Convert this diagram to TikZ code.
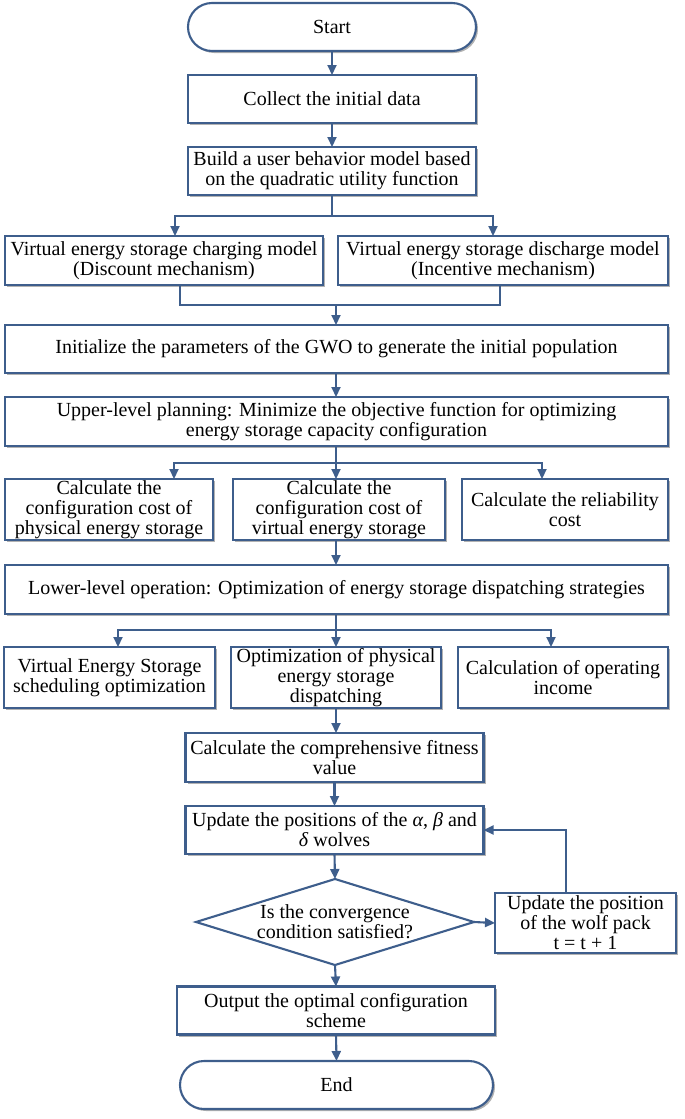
\documentclass[tikz,border=0pt]{standalone}
\usepackage{fontspec}
\setmainfont{Liberation Serif}
\usetikzlibrary{shapes.geometric,arrows.meta,shadows}
\definecolor{edgeblue}{RGB}{62,94,140}
\begin{document}
\begin{tikzpicture}[x=1pt,y=-1pt,
  font=\fontsize{20}{20}\selectfont,
  box/.style={draw=edgeblue, line width=2.1pt, fill=white, rectangle, align=center, inner sep=0pt, outer sep=0pt,
    drop shadow={shadow xshift=2pt,shadow yshift=-2pt,fill=black,opacity=0.3}},
  term/.style={box, rounded corners=24pt},
  decision/.style={draw=edgeblue, line width=2.1pt, fill=white, diamond, inner sep=0pt, outer sep=0pt},
  conn/.style={draw=edgeblue, line width=2.1pt},
  arr/.style={conn, -{Triangle[length=10pt,width=9pt]}},
]
\useasboundingbox (0,0) rectangle (685,1119);

\node[term, minimum width=288pt, minimum height=48pt] (start) at (332,27) {Start};
\node[box, minimum width=288pt, minimum height=48pt] (collect) at (332,99) {Collect the initial data};
\node[box, minimum width=288pt, minimum height=48pt] (build) at (332,171) {Build a user behavior model based\\on the quadratic utility function};
\node[box, minimum width=318pt, minimum height=49pt] (cl) at (164,260.5) {Virtual energy storage charging model\\(Discount mechanism)};
\node[box, minimum width=330pt, minimum height=49pt] (cr) at (503,260.5) {Virtual energy storage discharge model\\(Incentive mechanism)};
\node[box, minimum width=663pt, minimum height=48pt] (init) at (336.5,349) {Initialize the parameters of the GWO to generate the initial population};
\node[box, minimum width=663pt, minimum height=49pt] (upper) at (336.5,421.5) {Upper-level planning: Minimize the objective function for optimizing\\energy storage capacity configuration};
\node[box, minimum width=208pt, minimum height=61pt] (c1) at (109,509.5) {Calculate the\\configuration cost of\\physical energy storage};
\node[box, minimum width=212pt, minimum height=61pt] (c2) at (339,509.5) {Calculate the\\configuration cost of\\virtual energy storage};
\node[box, minimum width=206pt, minimum height=61pt] (c3) at (565,509.5) {Calculate the reliability\\cost};
\node[box, minimum width=663pt, minimum height=49pt] (lower) at (336.5,589.5) {Lower-level operation: Optimization of energy storage dispatching strategies};
\node[box, minimum width=211pt, minimum height=61pt] (d1) at (109.5,677.5) {Virtual Energy Storage\\scheduling optimization};
\node[box, minimum width=210pt, minimum height=61pt] (d2) at (336,677.5) {Optimization of physical\\energy storage\\dispatching};
\node[box, minimum width=210pt, minimum height=61pt] (d3) at (563,677.5) {Calculation of operating\\income};
\node[box, minimum width=298pt, minimum height=49pt] (calc) at (334.5,757.5) {Calculate the comprehensive fitness\\value};
\node[box, minimum width=298pt, minimum height=48pt] (upd) at (334.5,830) {Update the positions of the \textit{α}, \textit{β} and\\\textit{δ} wolves};
\node[decision, minimum width=278pt, minimum height=86pt] (dia) at (335,922) {};
\node[align=center, inner sep=0pt] (diatext) at (335,922) {Is the convergence\\condition satisfied?};
\node[box, minimum width=181pt, minimum height=60pt] (wolf) at (585.5,923) {Update the position\\of the wolf pack\\t = t + 1};
\node[box, minimum width=318pt, minimum height=48pt] (output) at (336,1010.5) {Output the optimal configuration\\scheme};
\node[term, minimum width=313pt, minimum height=48pt] (stop) at (336.5,1085) {End};

\coordinate (s1) at (332,216);
\coordinate (j1) at (336,305);
\coordinate (s2) at (336,463);
\coordinate (s3) at (336,630);

\draw[arr] (start.south) -- (collect.north);
\draw[arr] (collect.south) -- (build.north);
\draw[conn] (build.south) -- (s1);
\draw[arr] (s1) -| ([xshift=11pt]cl.north);
\draw[arr] (s1) -| ([xshift=-10pt]cr.north);
\draw[conn] ([xshift=16pt]cl.south) |- (j1) -| ([xshift=-3pt]cr.south);
\draw[arr] (j1) -- (j1 |- init.north);
\draw[arr] (init.south -| j1) -- (upper.north -| j1);
\draw[conn] (upper.south -| s2) -- (s2);
\draw[arr] (s2) -| ([xshift=65pt]c1.north);
\draw[arr] (s2) -- (s2 |- c2.north);
\draw[arr] (s2) -| ([xshift=-23pt]c3.north);
\draw[arr] (s2 |- c2.south) -- (s2 |- lower.north);
\draw[conn] (lower.south -| s3) -- (s3);
\draw[arr] (s3) -| ([xshift=8.5pt]d1.north);
\draw[arr] (s3) -- (s3 |- d2.north);
\draw[arr] (s3) -| ([xshift=-12pt]d3.north);
\draw[arr] (s3 |- d2.south) -- (s3 |- calc.north);
\draw[arr] (calc.south) -- (upd.north);
\draw[arr] (upd.south) -- (dia.north);
\draw[arr] (dia.east) -- (wolf.west);
\draw[arr] ([xshift=-19.5pt]wolf.north) |- (upd.east);
\draw[arr] (dia.south) -- (output.north);
\draw[arr] (output.south) -- (stop.north);
\end{tikzpicture}
\end{document}
